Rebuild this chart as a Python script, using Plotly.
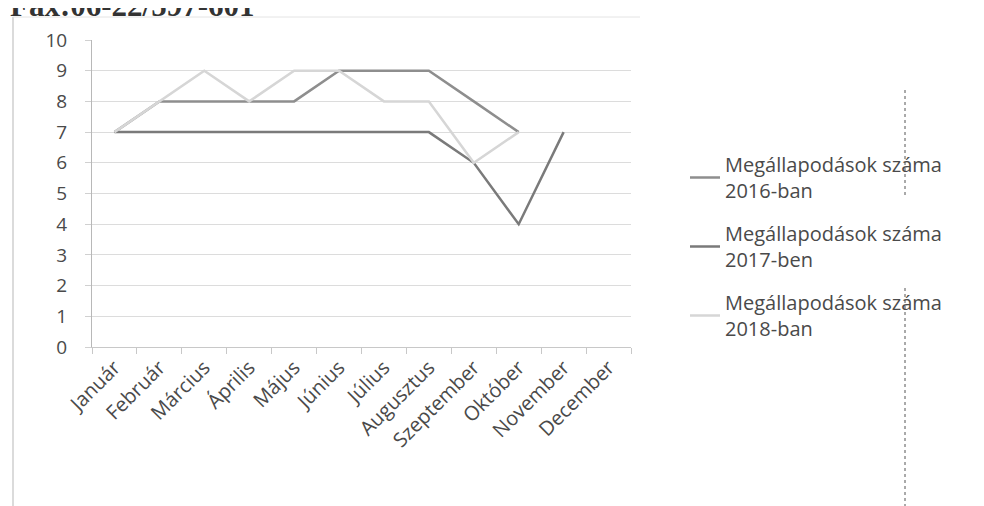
import plotly.graph_objects as go

months = ["Január", "Február", "Március", "Április", "Május", "Június",
          "Július", "Augusztus", "Szeptember", "Október", "November", "December"]
s2016 = [7, 8, 8, 8, 8, 9, 9, 9, 8, 7, None, None]
s2017 = [7, 7, 7, 7, 7, 7, 7, 7, 6, 4, 7, None]
s2018 = [7, 8, 9, 8, 9, 9, 8, 8, 6, 7, None, None]
names = ["Megállapodások száma<br>2016-ban",
         "Megállapodások száma<br>2017-ben",
         "Megállapodások száma<br>2018-ban"]
y_ticks = list(range(0, 11))

W, H = 984, 506
OFF = 8  # page body margin of the browser
# plot area in page pixels: x 92..631, y 40..347
L = 92 - OFF
T = 40 - OFF
R = W - (631 - OFF)
B = H - (347 - OFF)
PW, PH = W - L - R, H - T - B


def px(x):  # page pixel -> paper x
    return (x - OFF - L) / PW


def py(y):  # page pixel -> paper y
    return (H - B - (y - OFF)) / PH


fig = go.Figure()
series = [(s2016, names[0], "#8e8e8e"), (s2017, names[1], "#7a7a7a"), (s2018, names[2], "#d6d6d6")]
for i, (vals, nm, col) in enumerate(series):
    fig.add_trace(go.Scatter(
        x=months, y=vals, name=nm, mode="lines",
        line=dict(color=col, width=2.5),
        legendgroup="g%d" % i,
        connectgaps=False,
    ))

fig.update_layout(
    width=W, height=H,
    margin=dict(l=L, r=R, t=T, b=B, pad=0),
    paper_bgcolor="white", plot_bgcolor="white",
    font=dict(family="Open Sans", color="#4a4a4a"),
    showlegend=True,
    legend=dict(
        x=px(685), y=py(145), xanchor="left", yanchor="top",
        font=dict(size=20, color="#4a4a4a", family="Open Sans"),
        tracegroupgap=14,
        bgcolor="rgba(0,0,0,0)",
    ),
)
fig.update_xaxes(
    type="category", categoryorder="array", categoryarray=months,
    range=[-0.5, 11.5],
    tickangle=-45,
    tickfont=dict(size=20, color="#4a4a4a"),
    showline=True, linecolor="#c8c8c8", linewidth=1,
    ticks="outside", tickson="boundaries", ticklen=6, tickcolor="#c8c8c8",
    showgrid=False, zeroline=False,
)
fig.update_yaxes(
    range=[0, 10], tickvals=y_ticks, ticktext=[str(v) for v in y_ticks],
    tickfont=dict(size=19, color="#4a4a4a"),
    showline=True, linecolor="#b8b8b8", linewidth=1,
    ticks="outside", ticklen=6, tickcolor="#d0d0d0",
    ticklabelstandoff=14,
    showgrid=True, gridcolor="#dcdcdc", gridwidth=1,
    zeroline=False,
)

# header text from the scanned page, partly cut off at the top
fig.add_annotation(
    xref="paper", yref="paper", x=px(8), y=py(25),
    xanchor="left", yanchor="bottom", showarrow=False,
    text="<b>Fax:06-22/597-601</b>",
    font=dict(family="Liberation Serif", size=31, color="#333333"),
)

# chart frame / scan lines
fig.add_shape(type="line", xref="paper", yref="paper",
              x0=px(13), x1=px(13), y0=py(17), y1=py(514),
              line=dict(color="#cfcfcf", width=1.5))
fig.add_shape(type="line", xref="paper", yref="paper",
              x0=px(13), x1=px(640), y0=py(17), y1=py(17),
              line=dict(color="#e4e4e4", width=1))
fig.add_shape(type="line", xref="paper", yref="paper",
              x0=px(905), x1=px(905), y0=py(90), y1=py(198),
              line=dict(color="#555555", width=1, dash="dot"))
fig.add_shape(type="line", xref="paper", yref="paper",
              x0=px(905), x1=px(905), y0=py(288), y1=py(514),
              line=dict(color="#555555", width=1, dash="dot"))

fig.write_html("out.html")
